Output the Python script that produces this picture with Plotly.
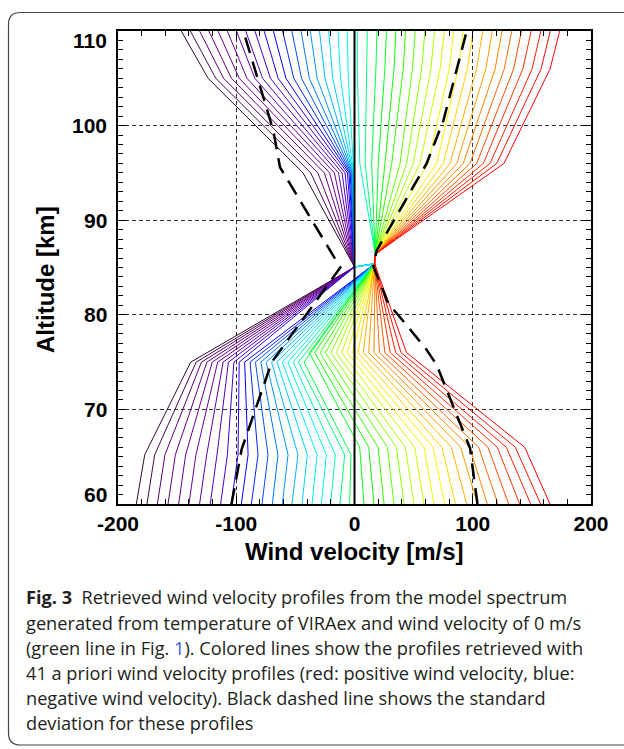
import plotly.graph_objects as go
from plotly.colors import sample_colorscale

# ---------------- data ----------------
# 41 retrieved profiles, index 0 = a priori -200 m/s ... index 40 = a priori +200 m/s
x_60 = [-184.5, -175.5, -166.7, -157.7, -148.7, -140.0, -131.0, -122.0, -113.2, -104.2,
        -95.7, -87.2, -78.2, -69.5, -61.0, -52.9, -44.4, -35.9, -28.0, -20.2,
        -12.3, -4.1, 8.0, 16.5, 25.0, 33.4, 41.9, 50.3, 58.8, 67.2,
        76.3, 85.3, 94.9, 103.9, 112.3, 121.3, 130.4, 139.7, 149.0, 157.4, 165.3]
alt_k1 = [65.2] * 22 + [66.0] * 19
x_k1 = [-177.4, -169.0, -160.3, -151.5, -142.8, -134.1, -125.0, -116.3, -107.5, -98.5,
        -90.0, -81.6, -73.1, -64.7, -56.2, -47.8, -39.9, -31.7, -23.8, -16.2,
        -8.3, -3.0, 4.4, 12.0, 19.9, 27.8, 35.4, 43.0, 50.9, 58.8,
        66.4, 74.0, 81.9, 89.8, 97.4, 105.0, 112.9, 120.8, 128.4, 136.0, 143.9]
alt_k2 = [75.0] * 22 + [76.0] * 19
x_k2 = [-138.5, -133.9, -129.4, -124.8, -120.3, -115.7, -111.1, -106.6, -102.0, -97.5,
        -92.9, -88.3, -83.8, -79.2, -74.7, -70.1, -65.5, -61.0, -56.4, -51.9,
        -47.3, -42.7, -38.2, -33.6, -29.1, -24.5, -19.9, -15.4, -10.8, -6.3,
        -1.7, 2.9, 7.4, 12.0, 16.5, 21.1, 25.7, 30.2, 34.8, 39.3, 44.0]
# convergence points near 85 km (two of them) and which profiles go to which
conv_low_x = [-0.5, 17.0]
conv_low_alt = [85.0, 85.4]
low_group = [0] * 10 + [1] * 31
conv_up_x = [0.0, 17.5]
conv_up_alt = [85.05, 86.4]
up_group = [0] * 19 + [1] * 22
alt_k3 = [95.0] * 19 + [96.0] * 22
x_k3 = [-43.5, -37.0, -31.0, -25.5, -21.0, -17.0, -13.5, -10.5, -8.0, -6.0,
        -4.6, -3.6, -2.8, -2.2, -1.7, -1.3, -1.0, -0.8, -0.6,
        4.5, 9.0, 14.5, 20.1, 25.8, 31.5, 38.5, 44.1, 49.7, 55.4, 62.4,
        69.5, 75.1, 80.8, 86.5, 92.0, 97.7, 103.3, 109.0, 114.6, 120.3, 126.4]
alt_k4 = [105.0] * 19 + [106.0] * 22
x_k4 = [-123.8, -117.3, -110.7, -104.1, -97.5, -90.9, -84.3, -77.7, -71.1, -64.6,
        -58.0, -51.4, -44.8, -38.2, -31.6, -25.0, -18.4, -11.8, -5.2,
        2.3, 10.3, 18.1, 25.7, 33.4, 41.2, 49.0, 56.8, 64.6, 72.4, 80.1,
        87.7, 95.5, 103.3, 111.1, 118.9, 126.7, 134.6, 142.4, 150.2, 157.8, 165.4]
x_110 = [-146.5, -138.8, -131.0, -123.2, -115.4, -107.6, -99.8, -92.0, -84.2, -76.4,
         -68.6, -60.8, -53.0, -45.2, -37.4, -29.6, -21.8, -14.0, -6.2,
         2.4, 10.8, 19.0, 27.0, 35.0, 43.2, 51.4, 59.6, 67.8, 76.0, 84.0,
         92.0, 100.2, 108.4, 116.6, 124.8, 133.0, 141.2, 149.4, 157.6, 165.6, 173.5]

# standard deviation (black dashed)
sd_left_alt = [60, 65.8, 75, 85, 95.6, 99.5, 110]
sd_left = [-104, -95.4, -70, -12, -63, -68.7, -94]
sd_right_alt = [60, 65.9, 74.7, 76.3, 78.7, 81.2, 85.1, 86.8, 96, 100.5, 110]
sd_right = [104, 97.7, 69.5, 61, 45.5, 28.6, 15.9, 18.8, 61, 75.1, 94.9]

# true wind profile (0 m/s)
true_alt = [60, 110]
true_wind = [0, 0]

x_ticks = [-200, -100, 0, 100, 200]
y_ticks = [60, 70, 80, 90, 100, 110]

# ---------------- layout helpers ----------------
W, H = 624, 749
L, R, T, B = 118, 591, 31, 504


def px(x):
    return (x - L) / (R - L)


def py(y):
    return (B - y) / (B - T)


rainbow = [
    [0.0, "rgb(45,10,45)"], [0.04, "rgb(90,0,105)"], [0.12, "rgb(110,0,150)"],
    [0.2, "rgb(70,0,210)"], [0.25, "rgb(10,0,255)"], [0.32, "rgb(0,110,255)"],
    [0.38, "rgb(0,190,255)"], [0.44, "rgb(0,250,250)"], [0.48, "rgb(0,255,170)"],
    [0.53, "rgb(0,255,60)"], [0.58, "rgb(20,255,0)"], [0.66, "rgb(150,255,0)"],
    [0.74, "rgb(255,255,0)"], [0.8, "rgb(255,180,0)"], [0.87, "rgb(255,110,0)"],
    [0.93, "rgb(255,45,0)"], [1.0, "rgb(255,0,0)"],
]
n = len(x_60)
colors = sample_colorscale(rainbow, [i / (n - 1) for i in range(n)])

fig = go.Figure()
for i in range(n):
    g = low_group[i]
    h = up_group[i]
    xs = [x_60[i], x_k1[i], x_k2[i], conv_low_x[g], conv_up_x[h], x_k3[i], x_k4[i], x_110[i]]
    ys = [60, alt_k1[i], alt_k2[i], conv_low_alt[g], conv_up_alt[h], alt_k3[i], alt_k4[i], 110]
    fig.add_trace(go.Scatter(x=xs, y=ys, mode="lines",
                             line=dict(color=colors[i], width=1),
                             showlegend=False, hoverinfo="skip"))

dash_style = dict(color="black", width=2.5, dash="16px,9px")
fig.add_trace(go.Scatter(x=sd_left, y=sd_left_alt, mode="lines", line=dash_style,
                         showlegend=False, hoverinfo="skip"))
fig.add_trace(go.Scatter(x=sd_right, y=sd_right_alt, mode="lines", line=dash_style,
                         showlegend=False, hoverinfo="skip"))
fig.add_trace(go.Scatter(x=true_wind, y=true_alt, mode="lines",
                         line=dict(color="black", width=2),
                         showlegend=False, hoverinfo="skip"))

axis_font = "Liberation Sans, Arial, sans-serif"
grid_kw = dict(showgrid=True, gridcolor="#333333", gridwidth=1, griddash="4px,3px")

fig.update_xaxes(range=[-200, 200], tickvals=x_ticks,
                 ticktext=[f"<b>{v}</b>" for v in x_ticks],
                 tickfont=dict(family=axis_font, size=21, color="black"),
                 ticks="inside", ticklen=8, tickwidth=1, tickcolor="black",
                 minor=dict(dtick=20, ticks="inside", ticklen=5, tickcolor="black", showgrid=False),
                 showline=True, linecolor="black", linewidth=1.5, mirror="allticks",
                 zeroline=False, automargin=False, **grid_kw)
fig.update_yaxes(range=[60, 110], tickvals=y_ticks, showticklabels=False,
                 ticks="inside", ticklen=8, tickwidth=1, tickcolor="black",
                 minor=dict(dtick=1, ticks="inside", ticklen=5, tickcolor="black", showgrid=False),
                 showline=True, linecolor="black", linewidth=1.5, mirror="allticks",
                 zeroline=False, automargin=False, **grid_kw)

annotations = []
# y tick labels (drawn slightly inside the ends, as in the figure)
y_label_pos = [61, 70, 80, 90, 100, 109]
for v, pos in zip(y_ticks, y_label_pos):
    annotations.append(dict(x=px(109), y=pos, xref="paper", yref="y", text=f"<b>{v}</b>",
                            showarrow=False, xanchor="right", yanchor="middle",
                            font=dict(family=axis_font, size=21, color="black")))
annotations.append(dict(x=px(354), y=py(551), xref="paper", yref="paper",
                        text="<b>Wind velocity [m/s]</b>", showarrow=False,
                        xanchor="center", yanchor="middle",
                        font=dict(family=axis_font, size=24, color="black")))
annotations.append(dict(x=px(45), y=py(280), xref="paper", yref="paper",
                        text="<b>Altitude [km]</b>", showarrow=False, textangle=-90,
                        xanchor="center", yanchor="middle",
                        font=dict(family=axis_font, size=24, color="black")))

caption = [
    "<b>Fig. 3</b>  Retrieved wind velocity profiles from the model spectrum",
    "generated from temperature of VIRAex and wind velocity of 0 m/s",
    "(green line in Fig. <span style='color:#3b5bdb'>1</span>). Colored lines show the profiles retrieved with",
    "41 a priori wind velocity profiles (red: positive wind velocity, blue:",
    "negative wind velocity). Black dashed line shows the standard",
    "deviation for these profiles",
]
cap_y = [597, 623, 648, 673, 698, 723]
for txt, yy in zip(caption, cap_y):
    annotations.append(dict(x=px(24), y=py(yy), xref="paper", yref="paper", text=txt,
                            showarrow=False, xanchor="left", yanchor="middle",
                            font=dict(family="Open Sans, Noto Sans, sans-serif", size=18.2,
                                      color="#231f20")))

# rounded frame around figure + caption
x0, y0, x1, y1, r = 8.5, 12.5, 650, 745, 12
path = (f"M {px(x1)},{py(y0)} L {px(x0 + r)},{py(y0)} "
        f"Q {px(x0)},{py(y0)} {px(x0)},{py(y0 + r)} "
        f"L {px(x0)},{py(y1 - r)} Q {px(x0)},{py(y1)} {px(x0 + r)},{py(y1)} "
        f"L {px(x1)},{py(y1)}")
shapes = [dict(type="path", path=path, xref="paper", yref="paper",
               line=dict(color="#444444", width=1.2))]

fig.update_layout(width=W, height=H, margin=dict(l=L, r=W - R, t=T, b=H - B),
                  paper_bgcolor="white", plot_bgcolor="white",
                  annotations=annotations, shapes=shapes, showlegend=False)

fig.write_html("out.html", config={"displayModeBar": False},
               post_script="document.body.style.margin='0px';document.body.style.overflow='hidden';")
